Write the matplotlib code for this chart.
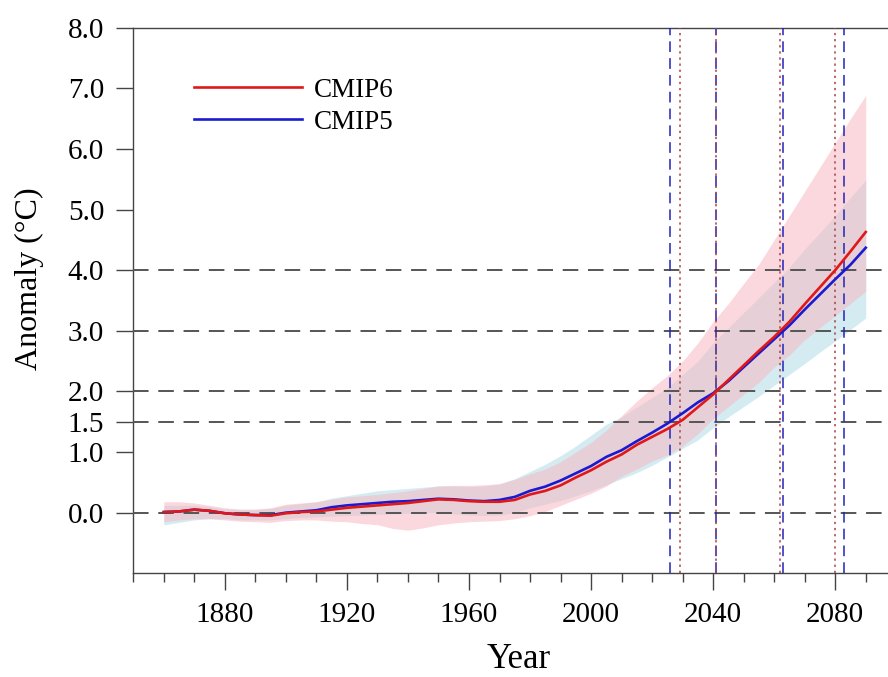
import matplotlib
matplotlib.use("Agg")
import matplotlib.pyplot as plt
import numpy as np

years = list(range(1860, 2091, 5))

cmip6_mean = [0.01, 0.02, 0.05, 0.03, -0.01, -0.03, -0.04, -0.05, -0.01, 0.01,
              0.02, 0.05, 0.08, 0.10, 0.12, 0.14, 0.16, 0.19, 0.22, 0.21,
              0.19, 0.18, 0.18, 0.21, 0.30, 0.36, 0.45, 0.58, 0.70, 0.84,
              0.96, 1.12, 1.25, 1.38, 1.53, 1.74, 1.95, 2.19, 2.43, 2.67,
              2.90, 3.15, 3.44, 3.72, 4.00, 4.31, 4.63]
cmip5_mean = [0.01, 0.02, 0.05, 0.03, -0.01, -0.03, -0.04, -0.04, 0.00, 0.02,
              0.04, 0.09, 0.12, 0.14, 0.16, 0.18, 0.19, 0.21, 0.23, 0.22,
              0.20, 0.19, 0.21, 0.26, 0.36, 0.43, 0.53, 0.65, 0.77, 0.92,
              1.03, 1.18, 1.32, 1.47, 1.64, 1.82, 1.97, 2.17, 2.40, 2.63,
              2.86, 3.09, 3.35, 3.60, 3.85, 4.09, 4.37]
cmip6_lo = [-0.15, -0.12, -0.10, -0.10, -0.12, -0.14, -0.15, -0.16, -0.13, -0.12,
            -0.12, -0.14, -0.15, -0.18, -0.20, -0.26, -0.29, -0.25, -0.20, -0.17,
            -0.15, -0.14, -0.13, -0.10, -0.05, 0.02, 0.12, 0.22, 0.32, 0.44,
            0.60, 0.72, 0.85, 0.95, 1.10, 1.30, 1.55, 1.75, 1.95, 2.15,
            2.40, 2.60, 2.85, 3.05, 3.25, 3.45, 3.65]
cmip6_hi = [0.18, 0.18, 0.16, 0.12, 0.08, 0.06, 0.06, 0.08, 0.14, 0.16,
            0.18, 0.22, 0.26, 0.28, 0.30, 0.33, 0.36, 0.40, 0.44, 0.45,
            0.45, 0.46, 0.48, 0.55, 0.64, 0.72, 0.84, 1.00, 1.16, 1.36,
            1.60, 1.84, 2.06, 2.26, 2.50, 2.80, 3.15, 3.45, 3.78, 4.10,
            4.50, 4.90, 5.30, 5.70, 6.10, 6.50, 6.88]
cmip5_lo = [-0.20, -0.16, -0.12, -0.10, -0.10, -0.12, -0.12, -0.12, -0.10, -0.08,
            -0.07, -0.06, -0.05, -0.04, -0.03, -0.02, -0.01, 0.00, 0.00, -0.02,
            -0.04, -0.05, -0.04, 0.00, 0.08, 0.14, 0.20, 0.28, 0.36, 0.46,
            0.56, 0.66, 0.78, 0.92, 1.06, 1.20, 1.40, 1.58, 1.75, 1.92,
            2.10, 2.28, 2.46, 2.65, 2.83, 3.02, 3.21]
cmip5_hi = [0.12, 0.12, 0.12, 0.10, 0.06, 0.05, 0.05, 0.07, 0.12, 0.15,
            0.18, 0.24, 0.28, 0.32, 0.36, 0.38, 0.40, 0.42, 0.44, 0.44,
            0.43, 0.44, 0.47, 0.56, 0.68, 0.80, 0.94, 1.10, 1.28, 1.46,
            1.58, 1.74, 1.90, 2.06, 2.28, 2.50, 2.80, 3.05, 3.30, 3.55,
            3.80, 4.05, 4.35, 4.62, 4.90, 5.20, 5.49]

thresholds = [0.0, 1.5, 2.0, 3.0, 4.0]
cmip6_cross = [2029, 2041, 2062, 2080]
cmip5_cross = [2026, 2041, 2063, 2083]

ytick_vals = [0.0, 1.0, 1.5, 2.0, 3.0, 4.0, 5.0, 6.0, 7.0, 8.0]
ytick_labels = ["0.0", "1.0", "1.5", "2.0", "3.0", "4.0", "5.0", "6.0", "7.0", "8.0"]
xtick_vals = [1880, 1920, 1960, 2000, 2040, 2080]

plt.rcParams['font.family'] = ['Liberation Serif', 'DejaVu Serif']

fig = plt.figure(figsize=(8.88, 6.77), dpi=100)
ax = fig.add_axes([0.1501, 0.1532, 0.8592, 0.8059])

ax.fill_between(years, cmip5_lo, cmip5_hi, color='#c2e5ec', alpha=0.7, lw=0, zorder=1)
ax.fill_between(years, cmip6_lo, cmip6_hi, color='#f7b8c4', alpha=0.55, lw=0, zorder=2)

for t in thresholds:
    ax.axhline(t, color='#555555', lw=1.4, dashes=(8, 5), zorder=3)

for yr in cmip5_cross:
    ax.axvline(yr, color='#2323b8', lw=1.1, dashes=(7, 4), zorder=4)
for yr in cmip6_cross:
    ax.axvline(yr, color='#a84444', lw=1.1, dashes=(1.5, 2.5), zorder=4)

ax.plot(years, cmip6_mean, color='#e01818', lw=1.9, label='CMIP6', zorder=6)
ax.plot(years, cmip5_mean, color='#1a1ad0', lw=1.9, label='CMIP5', zorder=5)

ax.set_xlim(1850, 2100)
ax.set_ylim(-1.0, 8.0)
ax.set_xticks(xtick_vals)
ax.set_xticks(list(range(1850, 2101, 10)), minor=True)
ax.set_yticks(ytick_vals)
ax.set_yticklabels(ytick_labels)
ax.tick_params(axis='both', which='major', direction='out', length=12, width=1.0,
               color='#444444', labelsize=21, pad=9)
ax.tick_params(axis='x', which='minor', direction='out', length=6.5, width=1.0, color='#444444')
ax.tick_params(axis='y', which='minor', left=False)
for s in ax.spines.values():
    s.set_color('#444444')
    s.set_linewidth(1.0)

ax.set_xlabel('Year', fontsize=25)
ax.xaxis.set_label_coords(0.505, -0.128)
ax.set_ylabel('Anomaly (°C)', fontsize=23)
ax.yaxis.set_label_coords(-0.117, 0.54)

h, l = ax.get_legend_handles_labels()
leg = ax.legend(h, l, loc='upper left', bbox_to_anchor=(0.079, 0.908), frameon=False,
                fontsize=19.5, handlelength=4.0, handletextpad=0.45, labelspacing=0.25,
                borderpad=0, borderaxespad=0)
for line in leg.get_lines():
    line.set_linewidth(1.9)

fig.savefig('out.png', dpi=100)
